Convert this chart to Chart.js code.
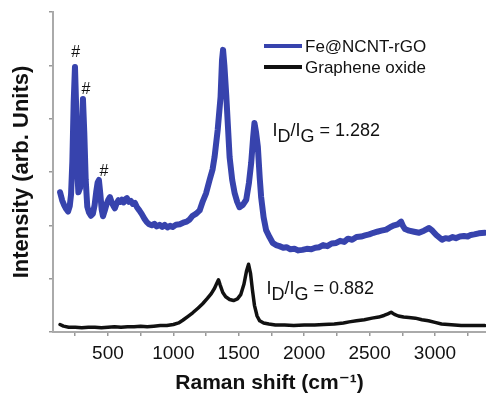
<!DOCTYPE html>
<html>
<head>
<meta charset="utf-8">
<script src="https://cdn.jsdelivr.net/npm/chart.js@4/dist/chart.umd.min.js"></script>
<style>
  html, body { margin: 0; padding: 0; background: #fff; }
  #wrap { width: 486px; height: 397px; }
</style>
</head>
<body>
<div id="wrap"><canvas id="raman" width="486" height="397"></canvas></div>
<script>
// Raman spectra: Fe@NCNT-rGO (offset upward) and graphene oxide
const ramanShiftRGO = [134,150,165,180,195,208,218,228,238,248,256,264,274,287,298,309,319,330,342,355,370,385,398,410,421,431,442,452,462,475,490,505,515,530,545,553,566,580,595,607,620,635,645,660,675,690,706,722,740,759,780,797,815,835,855,873,895,915,934,955,975,995,1020,1049,1075,1102,1125,1148,1175,1201,1225,1250,1277,1300,1315,1339,1361,1372,1380,1390,1405,1430,1450,1468,1488,1506,1530,1557,1578,1595,1610,1620,1632,1646,1660,1671,1690,1709,1735,1760,1785,1811,1840,1865,1895,1926,1955,1986,2020,2055,2085,2116,2145,2177,2210,2245,2275,2306,2335,2367,2400,2436,2465,2497,2530,2558,2590,2627,2660,2688,2715,2741,2755,2771,2802,2840,2878,2916,2955,2980,3010,3054,3080,3107,3135,3160,3190,3221,3250,3274,3300,3335,3381];
const intensityRGO = [2.62,2.47,2.38,2.31,2.26,2.36,2.58,3.20,4.30,4.97,4.30,3.10,2.62,2.70,3.70,4.37,3.75,2.85,2.35,2.24,2.18,2.22,2.38,2.62,2.80,2.85,2.58,2.30,2.17,2.27,2.40,2.49,2.53,2.42,2.35,2.32,2.41,2.47,2.44,2.48,2.43,2.49,2.51,2.44,2.46,2.40,2.42,2.34,2.28,2.21,2.12,2.06,2.02,2.00,2.03,1.98,2.01,1.97,2.01,1.96,1.99,1.97,2.01,2.02,2.05,2.07,2.11,2.18,2.22,2.28,2.45,2.60,2.85,3.05,3.28,3.79,4.41,5.10,5.29,5.00,4.41,3.28,2.85,2.61,2.44,2.34,2.38,2.48,2.80,3.17,3.65,3.92,3.75,3.47,2.90,2.53,2.15,1.91,1.78,1.67,1.63,1.61,1.58,1.59,1.55,1.56,1.53,1.54,1.56,1.55,1.58,1.59,1.63,1.61,1.66,1.67,1.71,1.69,1.75,1.73,1.78,1.79,1.81,1.83,1.86,1.88,1.90,1.92,1.97,2.00,2.02,2.07,1.99,1.93,1.90,1.88,1.86,1.90,1.95,1.90,1.82,1.73,1.76,1.75,1.78,1.76,1.79,1.80,1.79,1.82,1.83,1.85,1.86];

const ramanShiftGO = [134,160,200,250,300,350,400,450,500,550,600,650,700,750,800,850,900,950,1000,1040,1072,1110,1148,1190,1224,1260,1290,1315,1335,1345,1358,1378,1400,1430,1460,1490,1515,1540,1560,1575,1590,1605,1620,1640,1660,1690,1730,1780,1850,1920,2000,2080,2150,2230,2300,2344,2400,2460,2519,2570,2610,2640,2665,2690,2720,2760,2800,2850,2900,2950,3000,3050,3100,3150,3200,3270,3330,3381];
const intensityGO = [0.14,0.11,0.09,0.09,0.08,0.09,0.09,0.08,0.09,0.10,0.09,0.10,0.10,0.11,0.10,0.11,0.12,0.12,0.14,0.17,0.22,0.29,0.36,0.45,0.53,0.63,0.72,0.82,0.93,0.98,0.88,0.74,0.66,0.61,0.59,0.62,0.70,0.90,1.15,1.27,1.10,0.78,0.50,0.30,0.21,0.17,0.15,0.13,0.13,0.12,0.13,0.13,0.14,0.15,0.17,0.19,0.21,0.23,0.26,0.28,0.31,0.34,0.37,0.33,0.30,0.28,0.27,0.26,0.23,0.21,0.18,0.15,0.14,0.13,0.12,0.12,0.12,0.12];

const seriesNames = ['Fe@NCNT-rGO', 'Graphene oxide'];
const seriesColors = ['#3743ad', '#111111'];

const xTickValues = [250,500,750,1000,1250,1500,1750,2000,2250,2500,2750,3000,3250];
const xTickLabels = [500,1000,1500,2000,2500,3000];
const yTickValues = [0,1,2,3,4,5,6];

// "#" marks over the impurity peaks
const hashShift = [253, 332, 470];
const hashIntensity = [5.23, 4.54, 3.0];

// I_D/I_G ratio labels
const ratioValues = ['1.282', '0.882'];
const ratioShift = [1758, 1712];
const ratioIntensity = [3.77, 0.81];

const FONT = "'Liberation Sans', Arial, 'DejaVu Sans', sans-serif";
Chart.defaults.font.family = FONT;
Chart.defaults.color = '#111';

const toPoints = (xs, ys) => xs.map((x, i) => ({ x: x, y: ys[i] }));

const annotationPlugin = {
  id: 'ramanAnnotations',
  afterDatasetsDraw(chart) {
    const ctx = chart.ctx;
    const xs = chart.scales.x, ys = chart.scales.y;
    const area = chart.chartArea;
    ctx.save();
    ctx.fillStyle = '#111';
    ctx.textBaseline = 'middle';

    // peak marks
    ctx.font = '16px ' + FONT;
    ctx.textAlign = 'center';
    hashShift.forEach((s, i) => {
      ctx.fillText('#', xs.getPixelForValue(s), ys.getPixelForValue(hashIntensity[i]));
    });

    // ratio labels with subscripts
    ctx.textAlign = 'left';
    const size = 18;
    ratioValues.forEach((val, i) => {
      let px = xs.getPixelForValue(ratioShift[i]);
      const py = ys.getPixelForValue(ratioIntensity[i]);
      const parts = [['I', 0], ['D', 6], ['/I', 0], ['G', 6], [' = ' + val, 0]];
      ctx.font = size + 'px ' + FONT;
      parts.forEach(([t, dy]) => {
        ctx.fillText(t, px, py + dy);
        px += ctx.measureText(t).width;
      });
    });

    // legend in the upper right of the plot
    ctx.font = '17px ' + FONT;
    const lx = area.right - 222, ly = area.top + 34;
    chart.data.datasets.forEach((ds, i) => {
      const y = ly + i * 21;
      ctx.strokeStyle = ds.borderColor;
      ctx.lineWidth = 4;
      ctx.beginPath();
      ctx.moveTo(lx, y);
      ctx.lineTo(lx + 38, y);
      ctx.stroke();
      ctx.fillText(ds.label, lx + 41, y + 1);
    });
    ctx.restore();
  }
};

new Chart(document.getElementById('raman'), {
  type: 'line',
  data: {
    datasets: [
      { label: seriesNames[0], data: toPoints(ramanShiftRGO, intensityRGO),
        borderColor: seriesColors[0], borderWidth: 6, pointRadius: 0, tension: 0, borderJoinStyle: 'round', borderCapStyle: 'round' },
      { label: seriesNames[1], data: toPoints(ramanShiftGO, intensityGO),
        borderColor: seriesColors[1], borderWidth: 3.5, pointRadius: 0, tension: 0, borderJoinStyle: 'round', borderCapStyle: 'round' }
    ]
  },
  options: {
    responsive: false,
    animation: false,
    layout: { padding: { top: 12, right: 0, left: 0, bottom: 0 } },
    plugins: { legend: { display: false }, tooltip: { enabled: false } },
    scales: {
      x: {
        type: 'linear',
        min: 80, max: 3390,
        afterBuildTicks: (s) => { s.ticks = xTickValues.map(v => ({ value: v })); },
        afterFit: (s) => { s.height = 65; },
        ticks: {
          autoSkip: false, maxRotation: 0, padding: 6,
          font: { size: 19 }, color: '#111',
          callback: (v) => xTickLabels.includes(v) ? String(v) : ''
        },
        grid: { drawOnChartArea: false, drawTicks: true, tickLength: 4, color: '#999', lineWidth: 1.5 },
        border: { color: '#aaa', width: 2 },
        title: { display: true, text: 'Raman shift (cm\u207B\u00B9)', font: { size: 21, weight: 'bold' }, color: '#111', padding: { top: 0, bottom: 1 } }
      },
      y: {
        min: 0, max: 6,
        afterBuildTicks: (s) => { s.ticks = yTickValues.map(v => ({ value: v })); },
        afterFit: (s) => { s.width = 53; },
        ticks: { display: false },
        grid: { drawOnChartArea: false, drawTicks: true, tickLength: 4, color: '#999', lineWidth: 1.5 },
        border: { color: '#aaa', width: 2 },
        title: { display: true, text: 'Intensity (arb. Units)', font: { size: 22, weight: 'bold' }, color: '#111', padding: { top: 9, bottom: 0 } }
      }
    }
  },
  plugins: [annotationPlugin]
});
</script>
</body>
</html>
